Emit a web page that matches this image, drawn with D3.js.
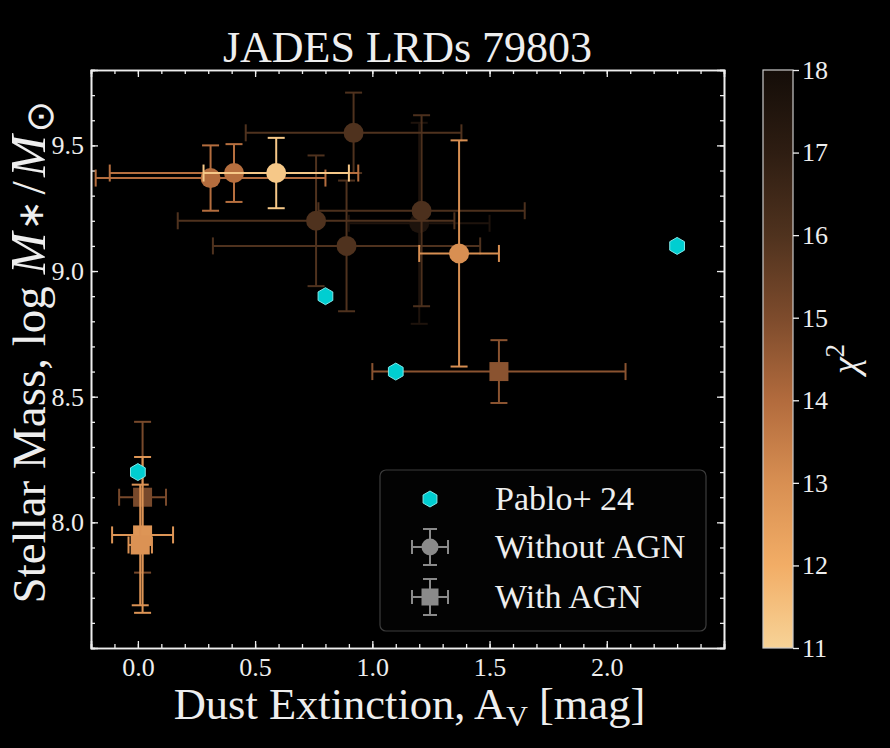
<!DOCTYPE html>
<html><head><meta charset="utf-8">
<script src="https://cdn.jsdelivr.net/npm/d3@7"></script>
<style>html,body{margin:0;padding:0;background:#000;}svg{display:block;}</style>
</head><body>
<svg id="chart" width="890" height="748"></svg>
<script>
// ---- data ----
const xTicks = [0.0, 0.5, 1.0, 1.5, 2.0];
const yTicks = [8.0, 8.5, 9.0, 9.5];
const cbTicks = [11, 12, 13, 14, 15, 16, 17, 18];

// Pablo+ 24
const pabloAv   = [2.3, 0.8, 1.1, 0.0];
const pabloMass = [9.1, 8.9, 8.6, 8.2];

// Without AGN (circles)
const noAgnAv      = [0.31, 0.41, 0.59, 0.92, 0.76, 0.89, 1.21, 1.20, 1.37];
const noAgnAvErr   = [0.49, 0.53, 0.31, 0.46, 0.59, 0.57, 0.44, 0.30, 0.17];
const noAgnMass    = [9.37, 9.39, 9.39, 9.55, 9.20, 9.10, 9.24, 9.19, 9.07];
const noAgnMassErr = [0.13, 0.115, 0.14, 0.16, 0.26, 0.26, 0.38, 0.40, 0.45];
const noAgnChi2    = [13.95, 13.9, 11.3, 16.0, 16.0, 16.0, 16.1, 17.6, 13.0];

// With AGN (squares)
const agnAv      = [1.54, 0.02, 0.02, 0.01];
const agnAvErr   = [0.54, 0.10, 0.13, 0.05];
const agnMass    = [8.60, 8.10, 7.95, 7.91];
const agnMassErr = [0.125, 0.30, 0.31, 0.24];
const agnChi2    = [14.75, 15.1, 12.8, 12.9];

// colormap (chi2 11 -> 18)
const cmapStops = ["#f7d397", "#f2ad66", "#d88f52", "#b26b3d", "#7d4b2c", "#4f321e", "#2e1d12", "#140d08"];

// ---- layout ----
const svg = d3.select("#chart");
const W = 890, H = 748;
const L = 91, R = 724, T = 70, B = 648;
const font = "'Liberation Serif','Times New Roman',serif";
const fg = "#eeeeee";

svg.append("rect").attr("width", W).attr("height", H).attr("fill", "#000");

const x = d3.scaleLinear().domain([-0.2, 2.5]).range([L, R]);
const y = d3.scaleLinear().domain([7.5, 9.8]).range([B, T]);

const color = d3.scaleLinear().domain(cbTicks).range(cmapStops).interpolate(d3.interpolateRgb).clamp(true);

// ---- axes (ticks inward, all four sides) ----
const xMinor = d3.range(-0.2, 2.5001, 0.1).map(v => +v.toFixed(2));
const yMinor = d3.range(7.5, 9.8001, 0.1).map(v => +v.toFixed(2));

const gB = svg.append("g").attr("transform", `translate(0,${B})`);
gB.call(d3.axisTop(x).tickValues(xMinor).tickSize(4).tickFormat(""));
gB.append("g").call(d3.axisTop(x).tickValues(xTicks).tickSize(7).tickFormat(""));
const gBl = svg.append("g").attr("transform", `translate(0,${B})`)
  .call(d3.axisBottom(x).tickValues(xTicks).tickSize(0).tickPadding(8).tickFormat(d3.format(".1f")));
gBl.select(".domain").remove();

const gT = svg.append("g").attr("transform", `translate(0,${T})`);
gT.call(d3.axisBottom(x).tickValues(xMinor).tickSize(4).tickFormat(""));
gT.append("g").call(d3.axisBottom(x).tickValues(xTicks).tickSize(7).tickFormat(""));

const gL = svg.append("g").attr("transform", `translate(${L},0)`);
gL.call(d3.axisRight(y).tickValues(yMinor).tickSize(4).tickFormat(""));
gL.append("g").call(d3.axisRight(y).tickValues(yTicks).tickSize(7).tickFormat(""));
const gLl = svg.append("g").attr("transform", `translate(${L},0)`)
  .call(d3.axisLeft(y).tickValues(yTicks).tickSize(0).tickPadding(7).tickFormat(d3.format(".1f")));
gLl.select(".domain").remove();

const gR = svg.append("g").attr("transform", `translate(${R},0)`);
gR.call(d3.axisLeft(y).tickValues(yMinor).tickSize(4).tickFormat(""));
gR.append("g").call(d3.axisLeft(y).tickValues(yTicks).tickSize(7).tickFormat(""));

svg.selectAll(".domain").attr("stroke", fg).attr("stroke-width", 1.6);
svg.selectAll(".tick line").attr("stroke", fg).attr("stroke-width", 1.3);
svg.selectAll(".tick text").attr("fill", fg).attr("font-family", font).attr("font-size", 26);
gBl.selectAll(".tick text").attr("dy", "0.75em");

// ---- marks ----
const plot = svg.append("g");
const capW = 8.5;

function errorbar(g, cx, cy, xe, ye, col) {
  const x0 = x(cx - xe), x1 = x(cx + xe), y0 = y(cy - ye), y1 = y(cy + ye);
  const px = x(cx), py = y(cy);
  const segs = [
    [x0, py, x1, py], [px, y0, px, y1],
    [x0, py - capW, x0, py + capW], [x1, py - capW, x1, py + capW],
    [px - capW, y0, px + capW, y0], [px - capW, y1, px + capW, y1]
  ];
  segs.forEach(s => g.append("line").attr("x1", s[0]).attr("y1", s[1]).attr("x2", s[2]).attr("y2", s[3])
    .attr("stroke", col).attr("stroke-width", 2));
}

const circles = noAgnAv.map((v, i) => ({av: v, ae: noAgnAvErr[i], m: noAgnMass[i], me: noAgnMassErr[i], c: noAgnChi2[i]}))
  .sort((a, b) => b.c - a.c);
circles.forEach(d => {
  const g = plot.append("g");
  const col = color(d.c);
  errorbar(g, d.av, d.m, d.ae, d.me, col);
  g.append("circle").attr("cx", x(d.av)).attr("cy", y(d.m)).attr("r", 10).attr("fill", col);
});

const squares = agnAv.map((v, i) => ({av: v, ae: agnAvErr[i], m: agnMass[i], me: agnMassErr[i], c: agnChi2[i]}));
squares.forEach(d => {
  const g = plot.append("g");
  const col = color(d.c);
  errorbar(g, d.av, d.m, d.ae, d.me, col);
  g.append("rect").attr("x", x(d.av) - 9.5).attr("y", y(d.m) - 9.5).attr("width", 19).attr("height", 19).attr("fill", col);
});

function hexPath(cx, cy, r) {
  const pts = d3.range(6).map(k => {
    const a = Math.PI / 2 + k * Math.PI / 3;
    return [cx + r * Math.cos(a), cy - r * Math.sin(a)];
  });
  return "M" + pts.map(p => p.join(",")).join("L") + "Z";
}
pabloAv.forEach((v, i) => {
  plot.append("path").attr("d", hexPath(x(v), y(pabloMass[i]), 8.5))
    .attr("fill", "#00CED1").attr("stroke", "#7fe9ea").attr("stroke-width", 1);
});

// ---- legend ----
const lg = svg.append("g");
lg.append("rect").attr("x", 380).attr("y", 470).attr("width", 326).attr("height", 161).attr("rx", 6)
  .attr("fill", "#030303").attr("stroke", "#3c3c3c").attr("stroke-width", 1.2);
const lx = 430;
const rows = [499, 547, 597];
lg.append("path").attr("d", hexPath(lx, rows[0], 8)).attr("fill", "#00CED1").attr("stroke", "#7fe9ea");
[1, 2].forEach(k => {
  const cyy = rows[k];
  const col = "#8a8a8a";
  const gg = lg.append("g").attr("stroke", col).attr("stroke-width", 2);
  [[lx - 18, cyy, lx + 18, cyy], [lx, cyy - 18, lx, cyy + 18],
   [lx - 18, cyy - 7, lx - 18, cyy + 7], [lx + 18, cyy - 7, lx + 18, cyy + 7],
   [lx - 7, cyy - 18, lx + 7, cyy - 18], [lx - 7, cyy + 18, lx + 7, cyy + 18]]
    .forEach(s => gg.append("line").attr("x1", s[0]).attr("y1", s[1]).attr("x2", s[2]).attr("y2", s[3]));
  if (k === 1) lg.append("circle").attr("cx", lx).attr("cy", cyy).attr("r", 8.5).attr("fill", col);
  else lg.append("rect").attr("x", lx - 8.5).attr("y", cyy - 8.5).attr("width", 17).attr("height", 17).attr("fill", col);
});
const labels = ["Pablo+ 24", "Without AGN", "With AGN"];
labels.forEach((t, k) => {
  lg.append("text").attr("x", 495).attr("y", rows[k] + 11).attr("fill", fg)
    .attr("font-family", font).attr("font-size", 34).text(t);
});

// ---- titles ----
svg.append("text").attr("x", (L + R) / 2).attr("y", 62).attr("text-anchor", "middle")
  .attr("fill", fg).attr("font-family", font).attr("font-size", 44).text("JADES LRDs 79803");

const xl = svg.append("text").attr("x", (L + R) / 2 + 2).attr("y", 719).attr("text-anchor", "middle")
  .attr("fill", fg).attr("font-family", font).attr("font-size", 44.5);
xl.append("tspan").text("Dust Extinction, A");
xl.append("tspan").attr("font-size", 30).attr("dy", 7).text("V");
xl.append("tspan").attr("dy", -7).text(" [mag]");

// y label built from pieces, measured and centred
const ylg = svg.append("g").attr("transform", `translate(45,352) rotate(-90)`);
const pieces = [
  {t: "Stellar Mass, log", size: 47, dy: 0, gap: 12},
  {t: "M", size: 50, italic: true, dy: 0, gap: 2},
  {t: "∗", size: 36, dy: -2, gap: 6, sans: true},
  {t: "/", size: 48, dy: 0, gap: 4},
  {t: "M", size: 50, italic: true, dy: 0, gap: 3},
  {t: "⊙", size: 38, dy: 8, gap: 0, sans: true}
];
let cur = 0;
const made = pieces.map(p => {
  const t = ylg.append("text").attr("x", cur).attr("y", p.dy).attr("fill", fg)
    .attr("font-family", p.sans ? "'DejaVu Sans',sans-serif" : font)
    .attr("font-size", p.size).attr("font-style", p.italic ? "italic" : "normal").text(p.t);
  const w = t.node().getComputedTextLength();
  cur += w + p.gap;
  return t;
});
const total = cur;
made.forEach(t => t.attr("x", +t.attr("x") - total / 2));

// ---- colorbar ----
const cbX = 763, cbW = 30;
const cyS = d3.scaleLinear().domain([11, 18]).range([B, T]);
const defs = svg.append("defs");
const grad = defs.append("linearGradient").attr("id", "cbgrad").attr("x1", 0).attr("y1", 1).attr("x2", 0).attr("y2", 0);
cbTicks.forEach((v, i) => {
  grad.append("stop").attr("offset", (v - 11) / 7).attr("stop-color", cmapStops[i]);
});
svg.append("rect").attr("x", cbX).attr("y", T).attr("width", cbW).attr("height", B - T)
  .attr("fill", "url(#cbgrad)").attr("stroke", "#cccccc").attr("stroke-width", 1.2);
const gC = svg.append("g").attr("transform", `translate(${cbX + cbW},0)`)
  .call(d3.axisRight(cyS).tickValues(cbTicks).tickSize(6).tickPadding(3).tickFormat(d3.format("d")));
gC.select(".domain").remove();
gC.selectAll(".tick line").attr("stroke", fg).attr("stroke-width", 1.3);
gC.selectAll(".tick text").attr("fill", fg).attr("font-family", font).attr("font-size", 26);

const cl = svg.append("text").attr("transform", `translate(858,${(T + B) / 2}) rotate(-90)`)
  .attr("text-anchor", "middle").attr("fill", fg).attr("font-family", font).attr("font-size", 38);
cl.append("tspan").attr("font-style", "italic").text("χ");
cl.append("tspan").attr("font-size", 27).attr("dy", -14).text("2");
</script>
</body></html>
